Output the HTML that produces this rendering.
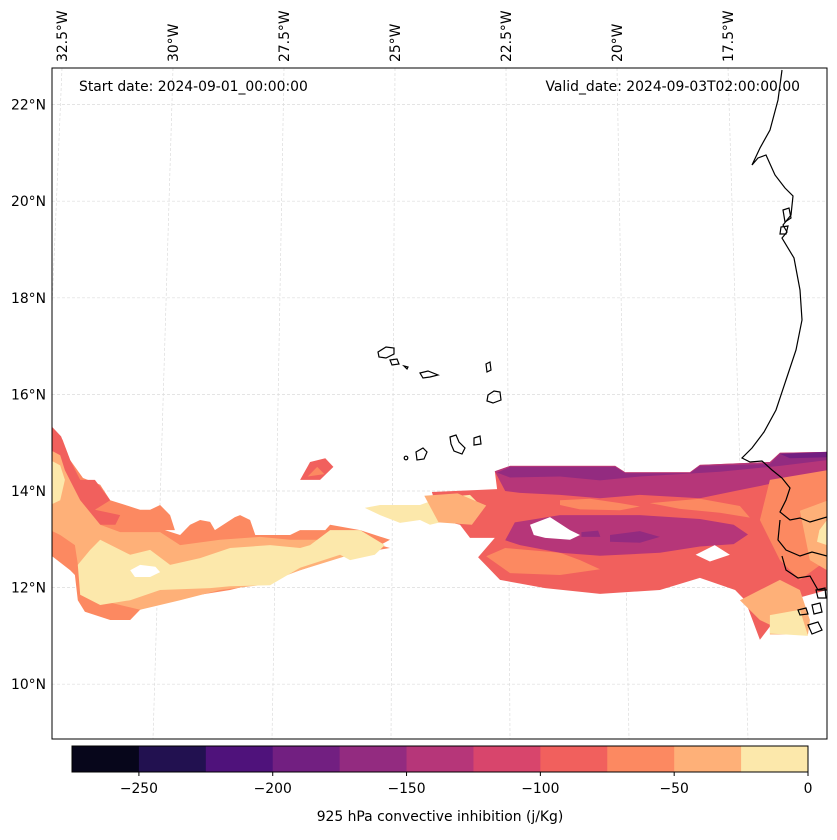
<!DOCTYPE html>
<html><head><meta charset="utf-8"><style>
body{margin:0;background:#fff;font-family:"DejaVu Sans","Liberation Sans",sans-serif}
svg text{font-family:"DejaVu Sans","Liberation Sans",sans-serif;fill:#000}
</style></head><body>
<svg id="c" width="837" height="836" viewBox="0 0 837 836" xmlns="http://www.w3.org/2000/svg">
<defs><clipPath id="mapclip"><rect x="52" y="68" width="775" height="671"/></clipPath></defs>
<g id="grid" clip-path="url(#mapclip)"></g>
<g id="fills" clip-path="url(#mapclip)"></g>
<g id="coast" clip-path="url(#mapclip)" fill="none" stroke="#000" stroke-width="1.2">
<path d="M782,70 L778,100 L770,130 L760,148 L752,165 L758,158 L766,155 L775,175 L785,188 L793,196 L791,215 L783,225 L787,232 L782,238 L794,258 L800,290 L802,320 L796,350 L786,380 L776,410 L764,432 L752,448 L742,458 L750,462 L762,461 L772,470 L782,478 L790,488 L786,500 L780,512 L790,520 L800,518 L810,522 L827,517 M780,520 L778,540 L786,550 L800,556 L812,552 L827,556 M782,556 L786,570 L798,578 L810,576 L818,590 L827,590"/>
<path d="M783,210 L789,208 L791,218 L785,222 Z M781,227 L788,226 L786,234 L780,234 Z"/>
<path d="M798,610 L806,608 L808,614 L800,615 Z M812,605 L820,603 L822,612 L814,614 Z M808,625 L818,622 L822,630 L812,634 Z M816,590 L825,588 L826,598 L818,598 Z"/>
<g>
<path d="M378,352 L386,347 L394,348 L394,354 L386,358 L379,357 Z"/>
<path d="M390,360 L397,359 L399,364 L392,365 Z"/>
<path d="M404,366 L408,367 L407,369 Z"/>
<path d="M420,373 L428,371 L438,375 L430,377 L423,378 Z"/>
<path d="M486,364 L490,362 L491,370 L487,372 Z"/>
<path d="M488,395 L494,391 L500,392 L501,400 L493,403 L487,401 Z"/>
<path d="M450,437 L456,435 L459,442 L465,448 L462,454 L454,451 L451,444 Z"/>
<path d="M474,438 L480,436 L481,444 L474,445 Z"/>
<path d="M416,452 L423,448 L427,452 L424,459 L417,460 Z"/>
<circle cx="406" cy="458" r="1.8"/>
</g>
</g>
<rect x="52" y="68" width="775" height="671" fill="none" stroke="#000" stroke-width="1"/>
<g id="lonlabels"></g>
<g id="latlabels"></g>
<text x="79" y="91" font-size="13.9">Start date: 2024-09-01_00:00:00</text>
<text x="800" y="91" font-size="13.9" text-anchor="end">Valid_date: 2024-09-03T02:00:00.00</text>
<g id="cbar"></g>
<text x="440" y="821" font-size="13.9" text-anchor="middle">925 hPa convective inhibition (j/Kg)</text>
</svg>
<script>
// ---- data ----
const levels = [-275,-250,-225,-200,-175,-150,-125,-100,-75,-50,-25,0];
const levelColors = ["#07061b","#221150","#4f127b","#721f81","#932b80","#b63679","#d8456c","#f1605d","#fc8961","#feb078","#fce8ab"];
const cbTicks = [-250,-200,-150,-100,-50,0];
const latTicks = [22,20,18,16,14,12,10];
const lonTicks = [-32.5,-30,-27.5,-25,-22.5,-20,-17.5];
// contour blobs: value (j/Kg) and [lon,lat] vertices, drawn in order
const blobValues = [-62,-87,-37,-12,-12,-87,-62,-87,-12,-37,-62,-137,-162,-187,-137,-162,-162,-62,-62,-62,-37,-12,-37,-12,999,999,999];
const blobShapes = [
 [[-32.16,15.37],[-31.9,15.06],[-31.74,14.64],[-31.47,14.27],[-31.11,14.13],[-30.9,13.81],[-30.58,13.71],[-30.27,13.61],[-30.06,13.61],[-29.85,13.71],[-29.64,13.5],[-29.54,13.19],[-29.75,13.19],[-29.43,13.09],[-29.22,13.3],[-29.01,13.4],[-28.8,13.36],[-28.7,13.19],[-28.28,13.46],[-28.17,13.5],[-27.96,13.4],[-27.85,13.09],[-27.12,13.09],[-26.91,13.19],[-26.38,13.19],[-26.28,13.3],[-25.65,13.19],[-25.02,12.99],[-25.23,12.88],[-25.02,12.82],[-25.86,12.68],[-26.28,12.57],[-26.91,12.36],[-27.54,12.16],[-28.38,11.95],[-29.01,11.85],[-29.85,11.74],[-30.27,11.54],[-30.48,11.33],[-30.9,11.33],[-31.43,11.5],[-31.58,11.74],[-31.64,12.26],[-31.74,12.36],[-32.16,12.68]],
 [[-32.16,15.37],[-31.93,15.13],[-31.74,14.64],[-31.53,14.23],[-31.22,14.23],[-30.9,13.81],[-31.22,13.61],[-30.69,13.5],[-30.79,13.3],[-31.11,13.3],[-31.53,13.81],[-31.74,14.02],[-31.95,14.43],[-32.16,14.43]],
 [[-32.16,14.85],[-31.95,14.74],[-31.85,14.43],[-31.53,13.81],[-31.11,13.3],[-30.69,13.15],[-29.85,13.15],[-29.43,12.88],[-28.59,12.99],[-27.75,13.05],[-27.12,12.99],[-26.49,12.99],[-25.86,12.99],[-25.23,12.88],[-25.86,12.68],[-26.91,12.36],[-27.75,12.05],[-28.59,11.95],[-29.43,11.74],[-30.27,11.54],[-31.11,11.74],[-31.53,12.16],[-31.64,12.88],[-31.95,13.09],[-32.16,13.19]],
 [[-31.58,12.47],[-31.32,12.78],[-31.11,12.99],[-30.48,12.68],[-30.06,12.78],[-29.64,12.47],[-29.01,12.61],[-28.38,12.82],[-27.54,12.88],[-26.91,12.82],[-26.7,12.88],[-26.28,13.19],[-25.65,13.19],[-25.13,12.88],[-25.34,12.68],[-25.86,12.57],[-26.07,12.68],[-26.91,12.41],[-27.54,12.05],[-28.38,12.03],[-28.8,11.99],[-29.85,11.95],[-30.48,11.74],[-31.11,11.64],[-31.53,11.85]],
 [[-32.16,14.64],[-31.95,14.53],[-31.85,14.23],[-31.95,13.81],[-32.16,13.71]],
 [[-26.91,14.23],[-26.7,14.6],[-26.38,14.68],[-26.21,14.5],[-26.49,14.23]],
 [[-26.75,14.3],[-26.55,14.5],[-26.4,14.35]],
 [[-24.14,13.98],[-22.77,14.04],[-22.82,14.41],[-22.5,14.52],[-20.29,14.52],[-20.08,14.39],[-18.72,14.39],[-18.51,14.54],[-17.04,14.6],[-16.83,14.79],[-15.84,14.81],[-15.84,11.95],[-16.62,11.74],[-17.25,10.92],[-17.56,11.74],[-17.77,11.95],[-18.51,12.2],[-19.35,11.95],[-20.61,11.87],[-21.76,11.99],[-22.71,12.16],[-23.17,12.63],[-22.82,13.03],[-23.34,13.03],[-23.55,13.3],[-23.97,13.4]],
 [[-25.55,13.65],[-25.23,13.71],[-24.39,13.71],[-23.97,13.86],[-23.34,13.92],[-23.13,13.71],[-23.34,13.5],[-23.76,13.4],[-24.18,13.3],[-24.39,13.4],[-24.81,13.34],[-25.23,13.5]],
 [[-24.3,13.9],[-23.6,13.95],[-23.0,13.7],[-23.3,13.3],[-24.0,13.35]],
 [[-23.0,12.65],[-22.6,12.82],[-21.45,12.72],[-21.03,12.57],[-20.61,12.38],[-21.45,12.26],[-22.5,12.3]],
 [[-22.82,14.41],[-22.5,14.52],[-20.29,14.52],[-20.08,14.39],[-18.72,14.39],[-18.51,14.54],[-17.04,14.6],[-16.83,14.79],[-15.84,14.81],[-15.84,14.13],[-16.62,14.23],[-17.67,14.02],[-18.51,13.85],[-19.77,13.92],[-20.61,13.85],[-21.45,13.92],[-22.29,13.96],[-22.6,14.0]],
 [[-22.77,14.38],[-22.5,14.5],[-20.29,14.5],[-20.08,14.37],[-18.72,14.37],[-18.51,14.52],[-17.04,14.56],[-16.83,14.77],[-15.84,14.79],[-15.84,14.64],[-16.83,14.52],[-18.09,14.4],[-19.77,14.3],[-20.61,14.22],[-21.45,14.3],[-22.5,14.28]],
 [[-16.83,14.77],[-15.84,14.81],[-15.84,14.7],[-16.62,14.68]],
 [[-22.4,13.35],[-21.45,13.5],[-19.77,13.5],[-18.51,13.42],[-17.8,13.3],[-17.5,13.1],[-17.8,12.9],[-18.51,12.85],[-19.35,12.72],[-20.61,12.66],[-21.45,12.72],[-22.29,12.88],[-22.6,12.98]],
 [[-20.4,13.09],[-19.77,13.17],[-19.35,13.05],[-19.77,12.93],[-20.4,12.95]],
 [[-21.0,13.15],[-20.65,13.18],[-20.6,13.05],[-21.0,13.05]],
 [[-21.45,13.81],[-20.82,13.84],[-20.19,13.75],[-19.77,13.68],[-20.19,13.6],[-21.03,13.62],[-21.45,13.71]],
 [[-19.56,13.75],[-18.51,13.84],[-17.67,13.69],[-17.46,13.45],[-18.09,13.55],[-18.93,13.63],[-19.35,13.71]],
 [[-17.04,14.23],[-15.84,14.43],[-15.84,12.57],[-16.41,12.16],[-16.83,12.57],[-17.25,13.4]],
 [[-16.41,13.59],[-15.84,13.8],[-15.84,12.36],[-16.2,12.57]],
 [[-16.0,13.19],[-15.84,13.4],[-15.84,12.88],[-16.05,12.95]],
 [[-17.67,11.74],[-17.25,11.95],[-16.83,12.16],[-16.41,11.95],[-16.2,11.33],[-16.24,11.03],[-17.04,11.03],[-17.04,11.23],[-17.25,11.33]],
 [[-17.04,11.43],[-16.41,11.54],[-16.24,11.0],[-17.04,11.05]],
 [[-22.08,13.3],[-21.66,13.46],[-21.24,13.19],[-21.03,13.09],[-21.24,12.99],[-21.76,13.03],[-22.0,13.09]],
 [[-18.6,12.68],[-18.2,12.88],[-17.88,12.68],[-18.3,12.54]],
 [[-30.48,12.36],[-30.27,12.47],[-29.95,12.43],[-29.85,12.32],[-30.06,12.22],[-30.38,12.22]]
];
// ---- axis functions ----
const X0=391, kx=47.6, Y0=491, ky=48.3;
function px(lon){return X0+(lon+25)*kx;}
function py(lat){return Y0-(lat-14)*ky;}
function colorFor(v){ if(v>0) return "#ffffff"; for(let i=0;i<levelColors.length;i++){ if(v>=levels[i]&&v<levels[i+1]) return levelColors[i]; } return levelColors[levelColors.length-1]; }
const NS="http://www.w3.org/2000/svg";
function mk(tag,attrs,parent){const e=document.createElementNS(NS,tag);for(const k in attrs)e.setAttribute(k,attrs[k]);parent.appendChild(e);return e;}
const grid=document.getElementById('grid');
latTicks.forEach(lat=>{
 const l=mk('line',{x1:52,x2:827,y1:py(lat),y2:py(lat),stroke:'#dcdcdc','stroke-width':0.7,'stroke-dasharray':'3,2'},grid);
 
 
});
const lab=document.getElementById('lonlabels');
lonTicks.forEach(lon=>{
 const bot=px(lon);
 const top=bot-(lon+25)*3.2+4;
 const l=mk('line',{x1:top,y1:68,x2:bot,y2:739,stroke:'#dcdcdc','stroke-width':0.7,'stroke-dasharray':'3,2'},grid);
 
 
 const tx=mk('text',{x:0,y:0,'font-size':13.9,transform:`translate(${(top+5).toFixed(1)},62) rotate(-90)`},lab);
 tx.textContent=(-lon)+'°W';
 
 
});
latTicks.forEach(lat=>{
 const t=mk('text',{x:46,y:py(lat)+5,'font-size':13.9,'text-anchor':'end'},document.getElementById('latlabels'));
 t.textContent=lat+'°N';
 
 
});
const fills=document.getElementById('fills');
blobShapes.forEach((pts,i)=>{
 const p=mk('polygon',{points:pts.map(q=>px(q[0]).toFixed(1)+','+py(q[1]).toFixed(1)).join(' '),fill:colorFor(blobValues[i])},fills);
 
 
});
const cb=document.getElementById('cbar');
const cbx0=72, cbx1=808, cby=746, cbh=26;
function cx(v){return cbx0+(v-levels[0])/(levels[levels.length-1]-levels[0])*(cbx1-cbx0);}
for(let i=0;i<levelColors.length;i++){
 const r=mk('rect',{x:cx(levels[i]),y:cby,width:cx(levels[i+1])-cx(levels[i])+0.5,height:cbh,fill:levelColors[i]},cb);
 
 
}
const fr=mk('rect',{x:cbx0,y:cby,width:cbx1-cbx0,height:cbh,fill:'none',stroke:'#000','stroke-width':1},cb);


cbTicks.forEach(v=>{
 const tk=mk('line',{x1:cx(v),x2:cx(v),y1:cby+cbh,y2:cby+cbh+4,stroke:'#000'},cb);
 
 
 const t=mk('text',{x:cx(v),y:793,'font-size':13.9,'text-anchor':'middle'},cb);
 t.textContent=v<0?'\u2212'+(-v):String(v);
 
 
});
</script>
</body></html>
